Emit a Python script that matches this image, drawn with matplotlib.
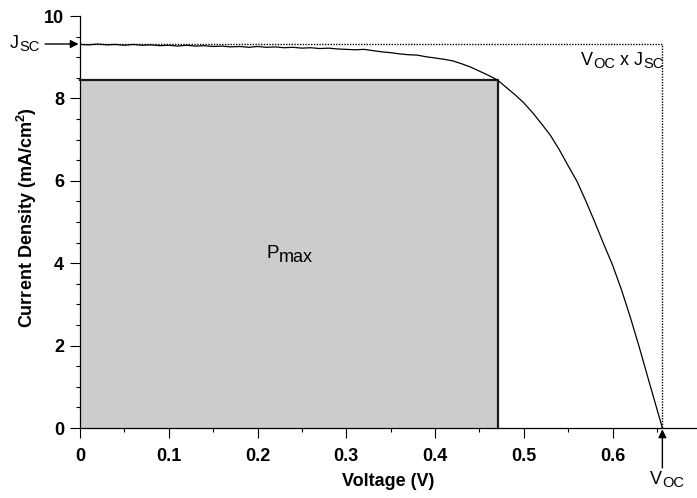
import matplotlib
matplotlib.use("Agg")
import matplotlib.pyplot as plt
from matplotlib.ticker import MultipleLocator
from matplotlib.patches import Rectangle
from matplotlib.transforms import IdentityTransform

plt.rcParams['font.family'] = ['Liberation Sans', 'DejaVu Sans']
plt.rcParams['mathtext.fontset'] = 'custom'
plt.rcParams['mathtext.rm'] = 'Liberation Sans'
plt.rcParams['mathtext.bf'] = 'Liberation Sans:bold'

W, H = 697, 498

# J-V sweep of the cell
voltage = [0.00, 0.01, 0.02, 0.03, 0.04, 0.05, 0.06, 0.07, 0.08, 0.09,
           0.10, 0.11, 0.12, 0.13, 0.14, 0.15, 0.16, 0.17, 0.18, 0.19,
           0.20, 0.21, 0.22, 0.23, 0.24, 0.25, 0.26, 0.27, 0.28, 0.29,
           0.30, 0.31, 0.32, 0.33, 0.34, 0.35, 0.36, 0.37, 0.38, 0.39,
           0.40, 0.41, 0.42, 0.43, 0.44, 0.45, 0.46, 0.47, 0.48, 0.49,
           0.50, 0.51, 0.52, 0.53, 0.54, 0.55, 0.56, 0.57, 0.58, 0.59,
           0.60, 0.61, 0.62, 0.63, 0.64, 0.65, 0.656]
current = [9.31, 9.30, 9.32, 9.30, 9.31, 9.29, 9.31, 9.29, 9.30, 9.28,
           9.29, 9.27, 9.29, 9.27, 9.28, 9.26, 9.27, 9.25, 9.26, 9.24,
           9.26, 9.24, 9.25, 9.23, 9.24, 9.22, 9.23, 9.21, 9.22, 9.20,
           9.19, 9.18, 9.19, 9.16, 9.13, 9.11, 9.08, 9.06, 9.05, 9.01,
           8.98, 8.95, 8.91, 8.84, 8.76, 8.66, 8.56, 8.45, 8.27, 8.09,
           7.89, 7.65, 7.38, 7.10, 6.75, 6.36, 5.98, 5.50, 4.99, 4.46,
           3.95, 3.35, 2.68, 1.96, 1.20, 0.45, 0.00]

j_sc = 9.32   # short-circuit current density (mA/cm^2)
v_oc = 0.656  # open-circuit voltage (V)
v_mp = 0.471  # voltage at maximum power point
j_mp = 8.45   # current density at maximum power point

fig = plt.figure(figsize=(W / 100, H / 100), dpi=100)
ax = fig.add_axes([80 / W, 1 - 428 / H, 1 - 80 / W, 412 / H])
ax.set_xlim(0, 0.695)
ax.set_ylim(0, 10)

# maximum power rectangle
ax.add_patch(Rectangle((0, 0), v_mp, j_mp, facecolor='#cccccc',
                       edgecolor='none', zorder=1))
ax.plot([0, v_mp, v_mp], [j_mp, j_mp, 0], color='#1a1a1a', lw=1.6,
        zorder=2, clip_on=False)

# ideal Voc x Jsc rectangle
ax.plot([0, v_oc, v_oc], [j_sc, j_sc, 0], color='black', lw=1.0,
        linestyle=(0, (1, 1)), zorder=2)

ax.plot(voltage, current, color='black', lw=0.9, zorder=3)

for s in ('top', 'right'):
    ax.spines[s].set_visible(False)
for s in ('left', 'bottom'):
    ax.spines[s].set_linewidth(0.9)

ax.xaxis.set_major_locator(MultipleLocator(0.1))
ax.xaxis.set_minor_locator(MultipleLocator(0.05))
ax.yaxis.set_major_locator(MultipleLocator(2))
ax.yaxis.set_minor_locator(MultipleLocator(0.5))
ax.tick_params(which='major', direction='out', length=7.5, width=0.8,
               labelsize=13)
ax.tick_params(which='minor', direction='out', length=3, width=0.8)
ax.tick_params(axis='x', which='major', pad=7)
ax.tick_params(axis='y', which='major', pad=4)
ax.set_xticks([0, 0.1, 0.2, 0.3, 0.4, 0.5, 0.6])
ax.set_xticklabels(['0', '0.1', '0.2', '0.3', '0.4', '0.5', '0.6'])
for lbl in ax.get_xticklabels() + ax.get_yticklabels():
    lbl.set_fontweight('bold')

ax.set_xlabel('Voltage (V)', fontsize=13, fontweight='bold', labelpad=6)
fig.text(27 / W, 1 - 218 / H, r'Current Density (mA/cm$^{\mathbf{2}}$)',
         rotation=90, ha='center', va='center', fontsize=13,
         fontweight='bold')

renderer = fig.canvas.get_renderer()


def sub_label(x_px, y_px, segments, ha='left'):
    """Write text runs with their own sizes and baseline drops, in pixels
    measured from the top-left corner of the figure."""
    arts = []
    cursor = 0.0
    for txt, size, drop in segments:
        t = fig.text(0, 0, txt, fontsize=size, va='baseline', ha='left',
                     transform=IdentityTransform())
        t._drop = drop
        t._off = cursor
        cursor += t.get_window_extent(renderer).width
        arts.append(t)
    shift = {'left': 0, 'center': cursor / 2, 'right': cursor}[ha]
    for t in arts:
        t.set_position((x_px + t._off - shift, H - y_px - t._drop))
    return arts


# annotations
ax.annotate('', xy=(0, j_sc), xytext=(-35 / 890, j_sc),
            arrowprops=dict(arrowstyle='-|>', color='black', lw=1.0,
                            mutation_scale=12, shrinkA=0, shrinkB=1),
            annotation_clip=False)
ax.annotate('', xy=(v_oc, 0), xytext=(v_oc, -40 / 41.2),
            arrowprops=dict(arrowstyle='-|>', color='black', lw=1.0,
                            mutation_scale=12, shrinkA=0, shrinkB=1),
            annotation_clip=False)

sub_label(10, 48, [('J', 13, 0), ('SC', 10.5, 3)])
sub_label(650, 484, [('V', 13, 0), ('OC', 10.5, 3)])
sub_label(581, 65, [('V', 13, 0), ('OC', 10.5, 3), (' x J', 13, 0),
                    ('SC', 10.5, 3)])
sub_label(266, 258, [('P', 13.5, 0), ('max', 13, 3.5)])

fig.savefig('out.png', dpi=100)
